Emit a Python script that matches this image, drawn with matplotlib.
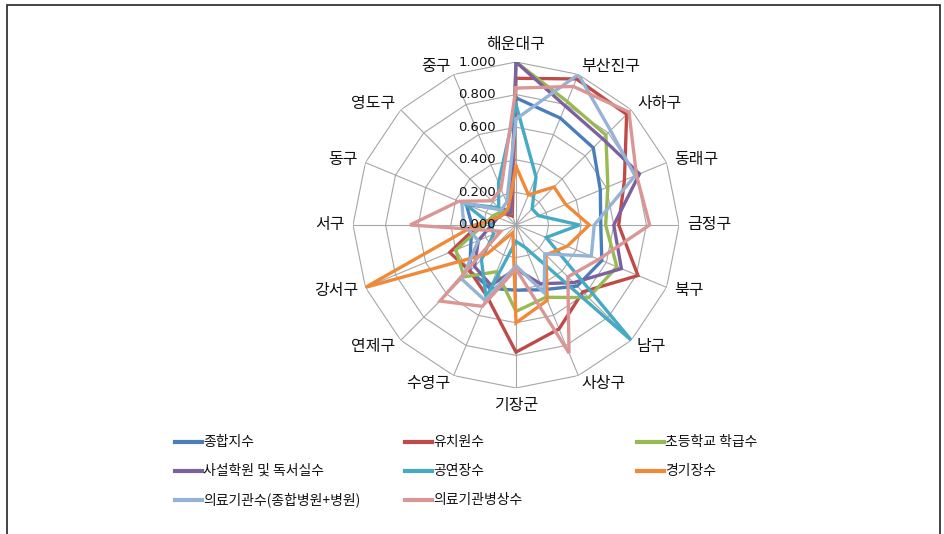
import numpy as np
import matplotlib
matplotlib.use("Agg")
import matplotlib.pyplot as plt
from matplotlib.transforms import offset_copy
from matplotlib.lines import Line2D
from matplotlib.patches import Rectangle

plt.rcParams['font.family'] = ['Noto Sans CJK KR', 'DejaVu Sans']

categories = ['해운대구', '부산진구', '사하구', '동래구', '금정구', '북구', '남구', '사상구',
              '기장군', '수영구', '연제구', '강서구', '서구', '동구', '영도구', '중구']

series_names = ['종합지수', '유치원수', '초등학교 학급수', '사설학원 및 독서실수',
                '공연장수', '경기장수', '의료기관수(종합병원+병원)', '의료기관병상수']

v_total    = [0.78, 0.71, 0.67, 0.56, 0.52, 0.57, 0.53, 0.43, 0.40, 0.42, 0.40, 0.30, 0.27, 0.33, 0.14, 0.10]
v_kinder   = [0.90, 0.97, 0.96, 0.72, 0.63, 0.81, 0.58, 0.69, 0.78, 0.47, 0.40, 0.44, 0.23, 0.12, 0.10, 0.06]
v_elem     = [1.00, 0.82, 0.78, 0.61, 0.55, 0.67, 0.63, 0.48, 0.53, 0.31, 0.45, 0.40, 0.20, 0.15, 0.12, 0.08]
v_academy  = [1.00, 0.79, 0.75, 0.82, 0.60, 0.70, 0.50, 0.39, 0.27, 0.40, 0.36, 0.25, 0.15, 0.12, 0.10, 0.08]
v_theater  = [0.74, 0.32, 0.14, 0.15, 0.39, 0.20, 1.00, 0.15, 0.10, 0.48, 0.30, 0.15, 0.15, 0.34, 0.15, 0.28]
v_stadium  = [0.36, 0.20, 0.33, 0.33, 0.45, 0.34, 0.26, 0.50, 0.60, 0.05, 0.25, 1.00, 0.25, 0.12, 0.10, 0.12]
v_hospital = [0.65, 1.00, 0.82, 0.79, 0.48, 0.50, 0.25, 0.45, 0.25, 0.50, 0.47, 0.25, 0.32, 0.36, 0.13, 0.15]
v_beds     = [0.84, 0.92, 0.98, 0.80, 0.82, 0.55, 0.45, 0.85, 0.27, 0.54, 0.66, 0.10, 0.65, 0.38, 0.21, 0.24]

tick_values = [0.0, 0.2, 0.4, 0.6, 0.8, 1.0]
tick_labels = ['0.000', '0.200', '0.400', '0.600', '0.800', '1.000']

colors = ['#4A7EBB', '#BE4B48', '#98B954', '#7D60A0', '#46AAC5', '#F08A38', '#95B3D7', '#D99694']
all_values = [v_total, v_kinder, v_elem, v_academy, v_theater, v_stadium, v_hospital, v_beds]

W, H = 945, 534
fig = plt.figure(figsize=(W / 100, H / 100), dpi=100)
fig.patch.set_facecolor('white')

# outer frame
fig.add_artist(Rectangle((7 / W, -0.05), (940 - 7) / W, 1 - 5 / H + 0.05,
                         transform=fig.transFigure, fill=False, edgecolor='#222222', lw=1.2))

cx, cy, R = 516, 225, 163
ax = fig.add_axes([(cx - R) / W, 1 - (cy + R) / H, 2 * R / W, 2 * R / H], projection='polar')
ax.set_theta_zero_location('N')
ax.set_theta_direction(-1)
ax.set_ylim(0, 1)
ax.set_xticks([])
ax.set_yticks([])
ax.grid(False)
ax.spines['polar'].set_visible(False)
ax.patch.set_alpha(0)

n = len(categories)
theta = np.arange(n) * 2 * np.pi / n
theta_c = np.append(theta, theta[0])

# polygon grid
grid_col = '#A6A6A6'
for lv in tick_values[1:]:
    ax.plot(theta_c, [lv] * (n + 1), color=grid_col, lw=0.8, zorder=1)
for t in theta:
    ax.plot([t, t], [0, 1], color=grid_col, lw=0.8, zorder=1)

# series
for vals, col, name in zip(all_values, colors, series_names):
    ax.plot(theta_c, vals + vals[:1], color=col, lw=2.4, solid_joinstyle='miter', zorder=3, label=name)

# radial tick labels
tr = offset_copy(ax.transData, fig=fig, x=-20, y=0, units='dots')
for v, lab in zip(tick_values, tick_labels):
    ax.text(0, v, lab, transform=tr, ha='right', va='center', fontsize=9.5,
            family='DejaVu Sans', color='#111111', zorder=5)

# category labels
for t, lab in zip(theta, categories):
    s, c = np.sin(t), np.cos(t)
    trl = offset_copy(ax.transData, fig=fig, x=8 * s, y=9 * c, units='dots')
    ha = 'left' if s > 0.05 else ('right' if s < -0.05 else 'center')
    va = 'bottom' if c > 0.95 else ('top' if c < -0.95 else 'center')
    ax.text(t, 1.0, lab, transform=trl, ha=ha, va=va, fontsize=11.5, color='#111111')

# legend (manual, row-major, 3 columns)
col_x = [175, 405, 637]
row_y = [442, 471, 500]
for i, (name, col) in enumerate(zip(series_names, colors)):
    r, cidx = divmod(i, 3)
    x0 = col_x[cidx]
    y0 = row_y[r]
    fig.add_artist(Line2D([x0 / W, (x0 + 27) / W], [1 - y0 / H, 1 - y0 / H],
                          transform=fig.transFigure, color=col, lw=3))
    fig.text((x0 + 28) / W, 1 - y0 / H, name, ha='left', va='center', fontsize=10, color='#111111')

fig.savefig('out.png', dpi=100, facecolor='white')
